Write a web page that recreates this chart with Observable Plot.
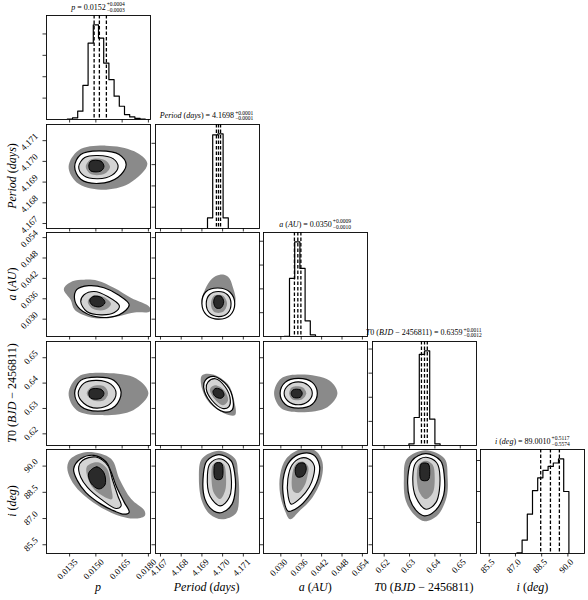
<!DOCTYPE html>
<html><head><meta charset="utf-8">
<script src="https://cdn.jsdelivr.net/npm/d3@7"></script>
<script src="https://cdn.jsdelivr.net/npm/@observablehq/plot@0.6"></script>
<style>
body{margin:0;background:#fff}
#chart{position:relative;width:588px;height:600px;font-family:"Liberation Serif","DejaVu Serif",serif;color:#000}
#chart svg{position:absolute;overflow:visible}
.ttl{position:absolute;white-space:nowrap;font-size:8px;line-height:10px;transform:translateX(-50%);display:flex;align-items:center}
.ss{display:inline-flex;flex-direction:column;font-size:5.5px;line-height:5.5px;margin-left:1px}
.xl{position:absolute;white-space:nowrap;font-size:12px;transform:translate(-50%,-50%)}
.yl{position:absolute;white-space:nowrap;font-size:12px;transform:translate(-50%,-50%) rotate(-90deg)}
</style></head><body><div id="chart"></div>
<script>
// ---------- variable ranges and ticks ----------
const pDomain = [0.01218, 0.01812];
const periodDomain = [4.16676, 4.17178];
const aDomain = [0.0249, 0.0555];
const t0Domain = [0.6154, 0.6564];
const iDomain = [85.0, 90.95];

const pTicks = [0.0135, 0.0150, 0.0165, 0.0180];
const pTickLabels = ["0.0135", "0.0150", "0.0165", "0.0180"];
const periodTicks = [4.167, 4.168, 4.169, 4.170, 4.171];
const periodTickLabels = ["4.167", "4.168", "4.169", "4.170", "4.171"];
const aTicks = [0.030, 0.036, 0.042, 0.048, 0.054];
const aTickLabels = ["0.030", "0.036", "0.042", "0.048", "0.054"];
const t0Ticks = [0.62, 0.63, 0.64, 0.65];
const t0TickLabels = ["0.62", "0.63", "0.64", "0.65"];
const iTicks = [85.5, 87.0, 88.5, 90.0];
const iTickLabels = ["85.5", "87.0", "88.5", "90.0"];

// ---------- 1D histograms (20 bins over each range, counts in thousands) ----------
const pHist = [0, 0, 0, 0, 0.02, 0.08, 0.39, 1.6, 3.57, 4.42, 3.8, 2.64, 1.86, 1.09, 0.62, 0.23, 0.12, 0.05, 0.02, 0];
const periodHist = [0, 0, 0, 0, 0, 0, 0, 0, 0, 0, 0.5, 4.4, 4.44, 0.5, 0, 0, 0, 0, 0, 0];
const aHist = [0, 0, 0, 0, 0.01, 2.44, 3.97, 2.86, 0.66, 0.07, 0, 0, 0, 0, 0, 0, 0, 0, 0, 0];
const t0Hist = [0, 0, 0, 0, 0, 0, 0, 0.07, 1.16, 3.78, 3.92, 1.09, 0.07, 0, 0, 0, 0, 0, 0, 0];
const iHist = [0, 0, 0, 0, 0, 0, 0, 0.02, 0.43, 1.27, 2.03, 2.44, 2.68, 2.81, 2.92, 3.05, 2.0, 0, 0, 0];
const pHistTicks = [1, 2, 3, 4];
const periodHistTicks = [1, 2, 3, 4];
const aHistTicks = [1, 2, 3, 4];
const t0HistTicks = [1, 2, 3, 4];
const iHistTicks = [1, 2, 3];

// 16th / 50th / 84th percentiles
const pQuantiles = [0.0149, 0.0152, 0.0156];
const periodQuantiles = [4.1697, 4.1698, 4.1699];
const aQuantiles = [0.0340, 0.0350, 0.0359];
const t0Quantiles = [0.6347, 0.6359, 0.6370];
const iQuantiles = [88.4436, 89.0010, 89.5127];

// titles and labels
const titleNames = ["<i>p</i>", "<i>Period</i> (<i>days</i>)", "<i>a</i> (<i>AU</i>)", "<i>T</i>0 (<i>BJD</i> − 2456811)", "<i>i</i> (<i>deg</i>)"];
const titleValues = ["0.0152", "4.1698", "0.0350", "0.6359", "89.0010"];
const titlePlus = ["+0.0004", "+0.0001", "+0.0009", "+0.0011", "+0.5117"];
const titleMinus = ["−0.0003", "−0.0001", "−0.0010", "−0.0012", "−0.5574"];

// ---------- 2D panels: halo of samples and density contours (data units) ----------
// Period vs p
const periodVsP_halo = [[0.017943,4.169885],[0.017193,4.170485],[0.015577,4.17076],[0.014019,4.170535],[0.013442,4.169735],[0.013904,4.168985],[0.015289,4.168635],[0.016904,4.168935]];
const periodVsP_c1 = [[0.016731,4.169835],[0.016327,4.170335],[0.015173,4.17051],[0.014135,4.170335],[0.013788,4.169735],[0.014135,4.169135],[0.015173,4.168935],[0.016269,4.169235]];
const periodVsP_c2 = [[0.016269,4.169735],[0.015981,4.170135],[0.015115,4.170285],[0.014365,4.170185],[0.014019,4.169735],[0.014308,4.16931],[0.015115,4.16916],[0.015923,4.169335]];
const periodVsP_c3 = [[0.015808,4.169735],[0.015519,4.17006],[0.014712,4.170085],[0.014423,4.169735],[0.014712,4.169385],[0.015519,4.16941]];
const periodVsP_c4 = [[0.015462,4.16976],[0.015289,4.17001],[0.014712,4.17001],[0.014596,4.16976],[0.014712,4.169535],[0.015289,4.169535]];
// a vs p
const aVsP_halo = [[0.013171,0.038871],[0.013656,0.041121],[0.014325,0.041624],[0.015098,0.041328],[0.016056,0.039167],[0.01702,0.036207],[0.018075,0.033543],[0.018075,0.032241],[0.01721,0.031945],[0.015635,0.030228],[0.014596,0.030672],[0.013788,0.03274],[0.013558,0.035704]];
const aVsP_c1 = [[0.013788,0.035704],[0.013904,0.038664],[0.014596,0.039848],[0.015462,0.039256],[0.016269,0.037184],[0.016904,0.034224],[0.016327,0.031264],[0.015058,0.030672],[0.014077,0.03304]];
const aVsP_c2 = [[0.014135,0.035201],[0.014325,0.037184],[0.014902,0.038161],[0.015675,0.036681],[0.016344,0.033928],[0.016056,0.031945],[0.015289,0.031264],[0.014481,0.032241]];
const aVsP_c3 = [[0.014538,0.035112],[0.014827,0.036888],[0.015404,0.036592],[0.015866,0.03452],[0.015519,0.032744],[0.014827,0.03304]];
const aVsP_c4 = [[0.014654,0.035704],[0.014885,0.03674],[0.015346,0.036296],[0.015519,0.034816],[0.015231,0.033632],[0.014769,0.034224]];
// T0 vs p
const t0VsP_halo = [[0.018,0.635982],[0.017308,0.641847],[0.015577,0.643998],[0.014019,0.642629],[0.013442,0.635982],[0.013904,0.629335],[0.015289,0.62738],[0.017135,0.629335]];
const t0VsP_c1 = [[0.016443,0.636373],[0.016039,0.641065],[0.015058,0.642356],[0.014135,0.641065],[0.013788,0.635982],[0.014135,0.630899],[0.015115,0.628944],[0.016096,0.630899]];
const t0VsP_c2 = [[0.016154,0.635982],[0.015866,0.639501],[0.015058,0.641065],[0.014308,0.639892],[0.01399,0.635982],[0.014308,0.632072],[0.015058,0.630117],[0.015866,0.632072]];
const t0VsP_c3 = [[0.015692,0.635982],[0.015462,0.638719],[0.014827,0.638719],[0.014481,0.635982],[0.014827,0.633245],[0.015462,0.633245]];
const t0VsP_c4 = [[0.015462,0.635982],[0.015289,0.637546],[0.014712,0.637546],[0.014596,0.635982],[0.014712,0.634027],[0.015289,0.634027]];
// i vs p
const iVsP_halo = [[0.013367,89.943],[0.013558,90.421],[0.014521,90.808],[0.015866,90.421],[0.016344,89.267],[0.01702,88.113],[0.017787,87.438],[0.017787,87.15],[0.01721,87.0],[0.016443,87.115],[0.015289,87.635],[0.014135,88.5],[0.013558,89.267]];
const iVsP_c1 = [[0.01373,89.844],[0.014135,90.421],[0.014885,90.612],[0.015577,90.248],[0.015866,89.671],[0.016154,88.881],[0.016616,87.94],[0.016904,87.363],[0.016616,87.248],[0.016039,87.438],[0.015289,87.825],[0.014423,88.5],[0.013944,89.169]];
const iVsP_c2 = [[0.014019,89.96],[0.014233,90.323],[0.015,90.52],[0.015675,90.035],[0.015964,89.169],[0.016252,88.304],[0.016443,87.727],[0.016154,87.577],[0.015289,88.113],[0.014521,88.789],[0.014135,89.366]];
const iVsP_c3 = [[0.014481,89.96],[0.015115,90.219],[0.015635,89.844],[0.015866,88.806],[0.015923,88.113],[0.015404,88.287],[0.014712,88.921]];
const iVsP_c4 = [[0.014596,89.614],[0.015058,89.96],[0.015462,89.614],[0.015519,88.921],[0.015173,88.69],[0.014712,89.037]];
// a vs Period
const aVsPeriod_halo = [[4.170601,0.034816],[4.170504,0.039256],[4.170261,0.042512],[4.169873,0.043104],[4.169485,0.04192],[4.169146,0.038664],[4.169,0.03452],[4.169776,0.029784]];
const aVsPeriod_c1 = [[4.170586,0.03452],[4.170358,0.037924],[4.169776,0.039167],[4.169194,0.038072],[4.169,0.03452],[4.169218,0.031264],[4.1698,0.029991],[4.170358,0.031116]];
const aVsPeriod_c2 = [[4.170407,0.03452],[4.170237,0.037184],[4.1698,0.038161],[4.169364,0.037184],[4.169209,0.03452],[4.169364,0.031856],[4.1698,0.030761],[4.170237,0.031708]];
const aVsPeriod_c3 = [[4.170213,0.03452],[4.170019,0.036888],[4.169582,0.036888],[4.169437,0.03452],[4.169582,0.032152],[4.170019,0.032152]];
const aVsPeriod_c4 = [[4.170052,0.035112],[4.169922,0.03674],[4.169679,0.03674],[4.169567,0.035112],[4.169679,0.033336],[4.169922,0.033336]];
// T0 vs Period
const t0VsPeriod_halo = [[4.169,0.643],[4.169534,0.643411],[4.170261,0.639501],[4.17055,0.633245],[4.1706,0.627380],[4.170067,0.628162],[4.16934,0.632463],[4.169,0.637937]];
const t0VsPeriod_c1 = [[4.16916,0.641065],[4.169567,0.642629],[4.170213,0.63911],[4.170504,0.633245],[4.170455,0.629335],[4.170052,0.628671],[4.169403,0.632581],[4.169082,0.638446]];
const t0VsPeriod_c2 = [[4.169291,0.640401],[4.169645,0.64173],[4.17013,0.638446],[4.170373,0.633245],[4.170295,0.630626],[4.170004,0.63],[4.169485,0.633245],[4.169209,0.63782]];
const t0VsPeriod_c3 = [[4.169631,0.63911],[4.170067,0.637155],[4.170261,0.633245],[4.170019,0.63129],[4.169582,0.634027],[4.169388,0.637546]];
const t0VsPeriod_c4 = [[4.169679,0.637937],[4.16997,0.637155],[4.170067,0.6352],[4.169922,0.634027],[4.169631,0.634809],[4.169534,0.636764]];
// i vs Period
const iVsPeriod_halo = [[4.170746,89.556],[4.170601,90.421],[4.169825,90.883],[4.169,90.421],[4.168855,89.383],[4.169,87.998],[4.169388,87.248],[4.16997,86.959],[4.170649,87.306],[4.170795,88.402]];
const iVsPeriod_c1 = [[4.170586,89.556],[4.170407,90.306],[4.169825,90.652],[4.169243,90.306],[4.169073,89.556],[4.169146,88.113],[4.169567,87.438],[4.16997,87.346],[4.170455,87.825],[4.170615,88.69]];
const iVsPeriod_c2 = [[4.170407,89.498],[4.170261,90.133],[4.169825,90.421],[4.169388,90.133],[4.169267,89.498],[4.169388,88.287],[4.169888,87.727],[4.170324,88.212]];
const iVsPeriod_c3 = [[4.170164,89.383],[4.170067,90.075],[4.169825,90.248],[4.169534,90.075],[4.169461,89.383],[4.169582,88.46],[4.169873,88.113],[4.170116,88.575]];
const iVsPeriod_c4 = [[4.170019,89.729],[4.169946,90.162],[4.169655,90.162],[4.169582,89.729],[4.169655,89.267],[4.169946,89.267]];
// T0 vs a
const t0VsA_halo = [[0.046656,0.635982],[0.044288,0.641065],[0.036,0.643411],[0.03008,0.641847],[0.028008,0.635982],[0.03008,0.630117],[0.036,0.628553],[0.043696,0.630508]];
const t0VsA_c1 = [[0.040736,0.635982],[0.039256,0.640283],[0.035112,0.641847],[0.031264,0.640283],[0.029784,0.635982],[0.031264,0.631681],[0.035112,0.630117],[0.039256,0.631681]];
const t0VsA_c2 = [[0.039256,0.635982],[0.038072,0.63911],[0.035112,0.640479],[0.032152,0.63911],[0.030968,0.635982],[0.032152,0.632854],[0.035112,0.631486],[0.038072,0.632854]];
const t0VsA_c3 = [[0.03748,0.635982],[0.036296,0.638328],[0.033336,0.638328],[0.032448,0.635982],[0.033336,0.633636],[0.036296,0.633636]];
const t0VsA_c4 = [[0.036296,0.635982],[0.035704,0.637351],[0.033632,0.637351],[0.03304,0.635982],[0.033632,0.634418],[0.035704,0.634418]];
// i vs a
const iVsA_halo = [[0.04192,89.267],[0.042216,90.248],[0.040144,90.883],[0.035408,90.941],[0.03156,90.421],[0.029784,89.498],[0.029784,88.402],[0.031264,87.421],[0.032744,86.959],[0.035408,87.421],[0.03896,88.113]];
const iVsA_c1 = [[0.040943,89.267],[0.041328,90.075],[0.039552,90.652],[0.036,90.71],[0.032744,90.306],[0.030968,89.556],[0.030672,88.402],[0.032152,87.421],[0.035023,87.635],[0.037983,88.212]];
const iVsA_c2 = [[0.039552,89.383],[0.039848,90.017],[0.038072,90.421],[0.035704,90.45],[0.033336,90.075],[0.032063,89.267],[0.032152,88.287],[0.03304,87.825],[0.036,88.212],[0.038368,88.806]];
const iVsA_c3 = [[0.037776,89.383],[0.038072,89.96],[0.036592,90.248],[0.03452,90.133],[0.033336,89.498],[0.033632,88.575],[0.035112,88.46],[0.036888,88.864]];
const iVsA_c4 = [[0.03748,89.844],[0.036888,90.162],[0.035112,90.133],[0.034224,89.787],[0.034816,89.383],[0.036592,89.441]];
// i vs T0
const iVsT0_halo = [[0.645014,89.383],[0.643838,90.421],[0.63639,90.912],[0.628942,90.421],[0.627766,89.267],[0.62855,87.998],[0.632078,87.19],[0.635998,86.844],[0.641094,87.19],[0.644622,88.229]];
const iVsT0_c1 = [[0.64372,89.383],[0.64227,90.306],[0.63639,90.71],[0.630902,90.306],[0.629334,89.383],[0.630118,88.113],[0.632862,87.421],[0.63588,87.15],[0.639918,87.421],[0.643446,88.344]];
const iVsT0_c2 = [[0.641995,89.383],[0.640702,90.191],[0.63639,90.508],[0.63247,90.191],[0.631294,89.383],[0.63247,88.229],[0.636507,87.536],[0.640427,87.923]];
const iVsT0_c3 = [[0.639918,89.383],[0.639134,90.075],[0.63639,90.306],[0.633646,90.075],[0.632862,89.383],[0.634038,88.46],[0.63639,88.113],[0.639134,88.46]];
const iVsT0_c4 = [[0.637958,89.671],[0.63737,90.133],[0.634626,90.133],[0.634038,89.671],[0.634626,89.21],[0.63737,89.21]];

// ---------- assembly ----------
const vars = [
  {domain: pDomain, ticks: pTicks, labels: pTickLabels, hist: pHist, histTicks: pHistTicks, q: pQuantiles, dx: 6.5},
  {domain: periodDomain, ticks: periodTicks, labels: periodTickLabels, hist: periodHist, histTicks: periodHistTicks, q: periodQuantiles, dx: 5.5},
  {domain: aDomain, ticks: aTicks, labels: aTickLabels, hist: aHist, histTicks: aHistTicks, q: aQuantiles, dx: 5},
  {domain: t0Domain, ticks: t0Ticks, labels: t0TickLabels, hist: t0Hist, histTicks: t0HistTicks, q: t0Quantiles, dx: 4},
  {domain: iDomain, ticks: iTicks, labels: iTickLabels, hist: iHist, histTicks: iHistTicks, q: iQuantiles, dx: 4}
];
const pairs = {
  "1,0": [periodVsP_halo, periodVsP_c1, periodVsP_c2, periodVsP_c3, periodVsP_c4],
  "2,0": [aVsP_halo, aVsP_c1, aVsP_c2, aVsP_c3, aVsP_c4],
  "3,0": [t0VsP_halo, t0VsP_c1, t0VsP_c2, t0VsP_c3, t0VsP_c4],
  "4,0": [iVsP_halo, iVsP_c1, iVsP_c2, iVsP_c3, iVsP_c4],
  "2,1": [aVsPeriod_halo, aVsPeriod_c1, aVsPeriod_c2, aVsPeriod_c3, aVsPeriod_c4],
  "3,1": [t0VsPeriod_halo, t0VsPeriod_c1, t0VsPeriod_c2, t0VsPeriod_c3, t0VsPeriod_c4],
  "4,1": [iVsPeriod_halo, iVsPeriod_c1, iVsPeriod_c2, iVsPeriod_c3, iVsPeriod_c4],
  "3,2": [t0VsA_halo, t0VsA_c1, t0VsA_c2, t0VsA_c3, t0VsA_c4],
  "4,2": [iVsA_halo, iVsA_c1, iVsA_c2, iVsA_c3, iVsA_c4],
  "4,3": [iVsT0_halo, iVsT0_c1, iVsT0_c2, iVsT0_c3, iVsT0_c4]
};

const SIZE = 104, STEP = 108.6, X0 = 46, Y0 = 15;
const serif = "Liberation Serif, DejaVu Serif, serif";
const chart = document.getElementById("chart");
const curve = "catmull-rom-closed";

function panel(r, c) {
  const vx = vars[c];
  const marks = [];
  let yScale, yTicks;
  if (r === c) {
    const n = vx.hist.length;
    const w = (vx.domain[1] - vx.domain[0]) / n;
    const verts = [[vx.domain[0], 0]];
    vx.hist.forEach((v, k) => {
      verts.push([vx.domain[0] + k * w, v], [vx.domain[0] + (k + 1) * w, v]);
    });
    verts.push([vx.domain[1], 0]);
    yScale = {domain: [0, 1.1 * d3.max(vx.hist)]};
    yTicks = vx.histTicks;
    marks.push(Plot.line(verts, {stroke: "black", strokeWidth: 1.2, clip: true}));
    marks.push(Plot.ruleX(vx.q, {stroke: "black", strokeWidth: 1.3, strokeDasharray: "3.5,2"}));
  } else {
    const vy = vars[r];
    const [halo, c1, c2, c3, c4] = pairs[r + "," + c];
    yScale = {domain: vy.domain};
    yTicks = vy.ticks;
    marks.push(Plot.line(halo, {curve, fill: "#000", fillOpacity: 0.46, stroke: "none", clip: true}));
    marks.push(Plot.line(c1, {curve, fill: "white", stroke: "black", strokeWidth: 1.2, clip: true}));
    marks.push(Plot.line(c2, {curve, fill: "#d4d4d4", stroke: "black", strokeWidth: 1.1, clip: true}));
    marks.push(Plot.line(c3, {curve, fill: "#8e8e8e", stroke: "none", clip: true}));
    marks.push(Plot.line(c4, {curve, fill: "#2a2a2a", stroke: "black", strokeWidth: 1, clip: true}));
  }
  marks.push(Plot.frame({stroke: "black", strokeWidth: 0.9}));
  // tick marks on bottom and left of every panel
  marks.push(Plot.axisX({anchor: "bottom", ticks: vx.ticks, tickSize: 3.5, tickFormat: () => "", label: null, stroke: "black", strokeWidth: 0.8}));
  marks.push(Plot.axisY({anchor: "left", ticks: yTicks, tickSize: 3.5, tickFormat: () => "", label: null, stroke: "black", strokeWidth: 0.8}));
  if (r === 4) {
    marks.push(Plot.axisX({anchor: "bottom", ticks: vx.ticks, tickSize: 0, tickPadding: 7, tickRotate: -45,
      tickFormat: d => vx.labels[vx.ticks.indexOf(d)], textAnchor: "end", lineAnchor: "middle",
      dx: vx.dx, fontSize: 9, fontFamily: serif, fill: "black", label: null}));
  }
  if (c === 0 && r > 0) {
    const vy = vars[r];
    marks.push(Plot.axisY({anchor: "left", ticks: vy.ticks, tickSize: 0, tickPadding: 10, tickRotate: -45,
      tickFormat: d => vy.labels[vy.ticks.indexOf(d)], textAnchor: "end", lineAnchor: "middle",
      dy: -6, fontSize: 9, fontFamily: serif, fill: "black", label: null}));
  }
  const svg = Plot.plot({
    width: SIZE, height: SIZE, margin: 0,
    x: {domain: vx.domain},
    y: yScale,
    style: {overflow: "visible", background: "transparent", position: "absolute", left: (X0 + c * STEP) + "px", top: (Y0 + r * STEP) + "px"},
    marks
  });
  chart.appendChild(svg);
}

for (let r = 0; r < 5; r++) for (let c = 0; c <= r; c++) panel(r, c);

// titles over the diagonal
for (let k = 0; k < 5; k++) {
  const d = document.createElement("div");
  d.className = "ttl";
  d.style.left = (X0 + k * STEP + SIZE / 2) + "px";
  d.style.top = (Y0 + k * STEP - 13) + "px";
  d.innerHTML = `<span>${titleNames[k]} = ${titleValues[k]}</span><span class="ss"><span>${titlePlus[k]}</span><span>${titleMinus[k]}</span></span>`;
  chart.appendChild(d);
}
// x labels (bottom row) and y labels (left column)
for (let k = 0; k < 5; k++) {
  const d = document.createElement("div");
  d.className = "xl";
  d.style.left = (X0 + k * STEP + SIZE / 2) + "px";
  d.style.top = "587px";
  d.innerHTML = titleNames[k];
  chart.appendChild(d);
}
for (let k = 1; k < 5; k++) {
  const d = document.createElement("div");
  d.className = "yl";
  d.style.left = "12px";
  d.style.top = (Y0 + k * STEP + SIZE / 2) + "px";
  d.innerHTML = titleNames[k];
  chart.appendChild(d);
}
</script>
</body></html>
